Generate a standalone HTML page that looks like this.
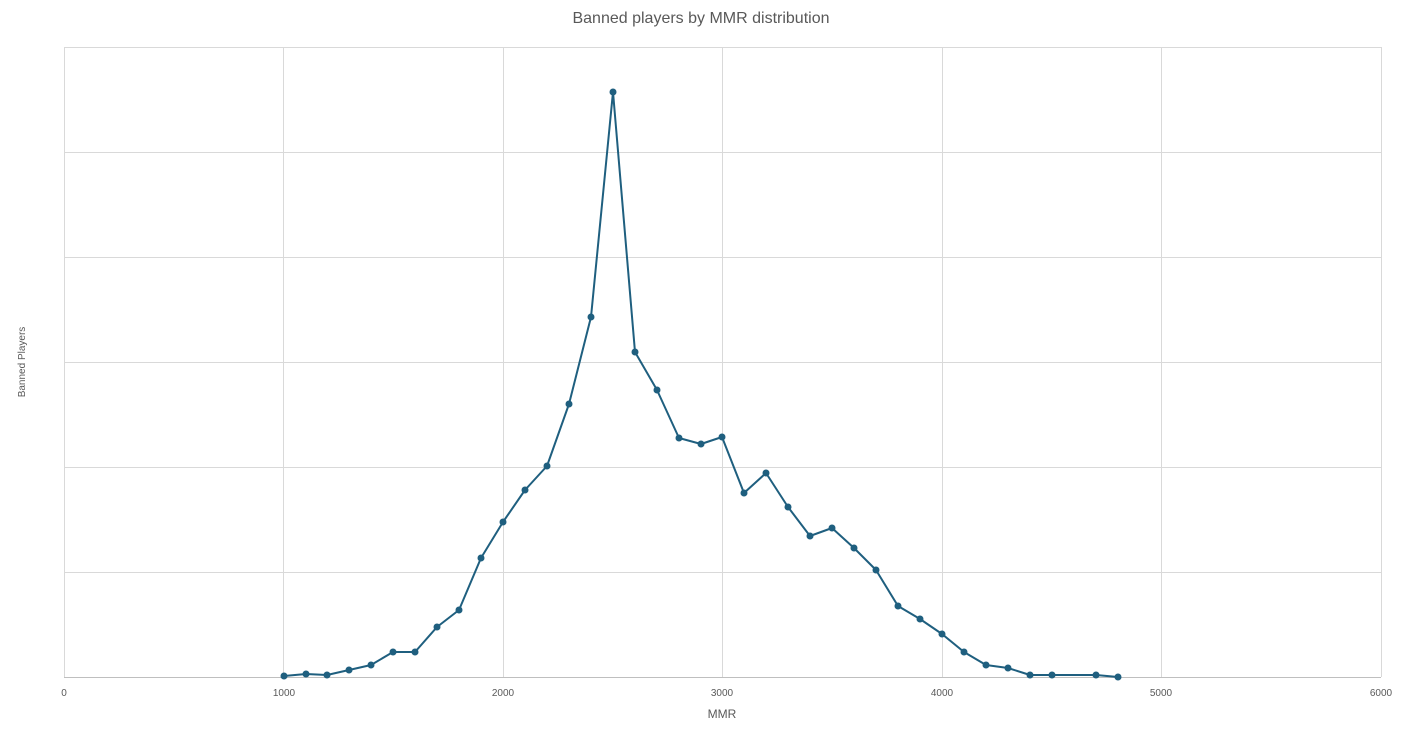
<!DOCTYPE html>
<html><head><meta charset="utf-8"><style>html,body{margin:0;padding:0;background:#fff;}</style></head>
<body>
<svg width="1402" height="736" xmlns="http://www.w3.org/2000/svg" font-family="Liberation Sans, sans-serif">
<rect width="1402" height="736" fill="#fff"/>
<g stroke="#d9d9d9" stroke-width="1">
<line x1="64" y1="47.5" x2="1381" y2="47.5"/>
<line x1="64" y1="152.5" x2="1381" y2="152.5"/>
<line x1="64" y1="257.5" x2="1381" y2="257.5"/>
<line x1="64" y1="362.5" x2="1381" y2="362.5"/>
<line x1="64" y1="467.5" x2="1381" y2="467.5"/>
<line x1="64" y1="572.5" x2="1381" y2="572.5"/>
<line x1="64.5" y1="47" x2="64.5" y2="677"/>
<line x1="283.5" y1="47" x2="283.5" y2="677"/>
<line x1="503.5" y1="47" x2="503.5" y2="677"/>
<line x1="722.5" y1="47" x2="722.5" y2="677"/>
<line x1="942.5" y1="47" x2="942.5" y2="677"/>
<line x1="1161.5" y1="47" x2="1161.5" y2="677"/>
<line x1="1381.5" y1="47" x2="1381.5" y2="677"/>
</g>
<line x1="64" y1="677.5" x2="1381" y2="677.5" stroke="#bfbfbf" stroke-width="1"/>
<text x="701" y="23" text-anchor="middle" font-size="16" fill="#595959">Banned players by MMR distribution</text>
<g font-size="10" fill="#595959" text-anchor="middle">
<text x="64" y="696">0</text><text x="284" y="696">1000</text><text x="503" y="696">2000</text>
<text x="722" y="696">3000</text><text x="942" y="696">4000</text><text x="1161" y="696">5000</text><text x="1381" y="696">6000</text>
</g>
<text x="722" y="718" text-anchor="middle" font-size="12" fill="#595959">MMR</text>
<text transform="translate(25,362) rotate(-90)" text-anchor="middle" font-size="10" fill="#595959">Banned Players</text>
<polyline fill="none" stroke="#1f5f7f" stroke-width="2" stroke-linejoin="round" points="284,676 306,674 327,675 349,670 371,665 393,652 415,652 437,627 459,610 481,558 503,522 525,490 547,466 569,404 591,317 613,92 635,352 657,390 679,438 701,444 722,437 744,493 766,473 788,507 810,536 832,528 854,548 876,570 898,606 920,619 942,634 964,652 986,665 1008,668 1030,675 1052,675 1096,675 1118,677"/>
<g fill="#1f5f7f">
<circle cx="284" cy="676" r="3.5"/><circle cx="306" cy="674" r="3.5"/><circle cx="327" cy="675" r="3.5"/><circle cx="349" cy="670" r="3.5"/><circle cx="371" cy="665" r="3.5"/><circle cx="393" cy="652" r="3.5"/><circle cx="415" cy="652" r="3.5"/><circle cx="437" cy="627" r="3.5"/><circle cx="459" cy="610" r="3.5"/><circle cx="481" cy="558" r="3.5"/><circle cx="503" cy="522" r="3.5"/><circle cx="525" cy="490" r="3.5"/><circle cx="547" cy="466" r="3.5"/><circle cx="569" cy="404" r="3.5"/><circle cx="591" cy="317" r="3.5"/><circle cx="613" cy="92" r="3.5"/><circle cx="635" cy="352" r="3.5"/><circle cx="657" cy="390" r="3.5"/><circle cx="679" cy="438" r="3.5"/><circle cx="701" cy="444" r="3.5"/><circle cx="722" cy="437" r="3.5"/><circle cx="744" cy="493" r="3.5"/><circle cx="766" cy="473" r="3.5"/><circle cx="788" cy="507" r="3.5"/><circle cx="810" cy="536" r="3.5"/><circle cx="832" cy="528" r="3.5"/><circle cx="854" cy="548" r="3.5"/><circle cx="876" cy="570" r="3.5"/><circle cx="898" cy="606" r="3.5"/><circle cx="920" cy="619" r="3.5"/><circle cx="942" cy="634" r="3.5"/><circle cx="964" cy="652" r="3.5"/><circle cx="986" cy="665" r="3.5"/><circle cx="1008" cy="668" r="3.5"/><circle cx="1030" cy="675" r="3.5"/><circle cx="1052" cy="675" r="3.5"/><circle cx="1096" cy="675" r="3.5"/><circle cx="1118" cy="677" r="3.5"/>
</g>
</svg>
</body></html>
